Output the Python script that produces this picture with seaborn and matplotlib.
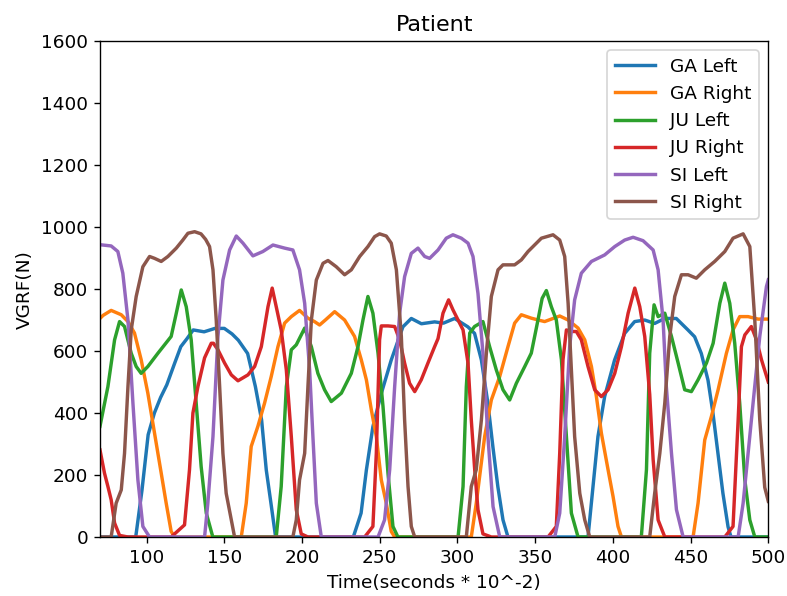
import matplotlib
matplotlib.use("Agg")
import matplotlib.pyplot as plt
import seaborn as sns
import pandas as pd

# === Données (temps, VGRF) ===
series_names = ["GA Left", "GA Right", "JU Left", "JU Right", "SI Left", "SI Right"]

ga_left_t = [70, 93, 97, 101, 105, 109, 113, 118, 122, 126, 130, 137, 144, 150, 155, 159, 165, 170, 174, 177, 180, 183,
             233, 238, 241.4, 245.6, 251, 257.4, 264.9, 270.3, 276.8, 285.3, 291, 298.2, 306.7, 311, 315.4, 319.6, 322.8,
             326, 329.3, 332.5, 384, 387.2, 390.4, 394.7, 401.1, 407.6, 414, 420.5, 426.9, 433.3, 440.8, 448.3, 452.6,
             456.9, 461.2, 464.4, 467.6, 470.8, 474.1, 476, 500]
ga_left_f = [0, 0, 150, 330, 400, 450, 491, 560, 614, 640, 668, 662, 673, 673, 655, 635, 592, 485, 377, 216, 109, 0,
             0, 77, 216, 356, 463, 571, 678, 705, 688, 694, 690, 705, 678, 657, 571, 431, 291,
             162, 55, 0, 0, 162, 324, 453, 571, 657, 695, 700, 689, 705, 705, 668, 646,
             592, 506, 399, 270, 141, 33, 0, 0]

ga_right_t = [70, 72, 77.2, 83.7, 88, 92.2, 96.5, 100.8, 105.1, 109.4, 112.6, 115.8, 118, 160.9, 164.1, 167.3, 171.6,
              175.9, 180.2, 184.5, 188.8, 193.1, 198.4, 203.8, 208, 211.3, 215, 221, 227.4, 233.8, 238.1, 241.4, 244.6,
              247.8, 251, 254.2, 257.4, 259.6, 308.9, 312.1, 317.5, 321.8, 327.2, 332.5, 336.8, 341.1, 347.5, 352,
              356.1, 365.8, 371.2, 377.6, 381.9, 386.2, 389.4, 392.6, 396.9, 400.1, 403.3, 405.5, 451.6, 454.8, 459.1,
              463.4, 467.7, 473, 477.3, 481.6, 487, 493.4, 500]
ga_right_f = [705, 715, 731, 717, 695, 658, 572, 464, 335, 206, 109, 18, 0, 0, 109, 292, 357,
              432, 518, 614, 690, 711, 731, 706, 695, 684, 700, 727, 700, 647, 572, 507, 410,
              324, 184, 109, 18, 0, 0, 109, 324, 442, 518, 614, 690, 717, 706, 700,
              695, 713, 700, 674, 636, 550, 453, 335, 217, 131, 34, 0, 0, 109, 313,
              389, 475, 592, 668, 711, 711, 703, 703]

ju_left_t = [70, 75.1, 79.4, 82.6, 85.8, 90.1, 93.3, 96.5, 100.8, 107.3, 115.8, 119.1, 122.3, 125.5, 128.7, 131.9,
             135.1, 138.4, 142.6, 183.4, 186.6, 189.9, 193.1, 196.3, 201.7, 206, 210.2, 214.5, 218.8, 225.3, 231.7,
             236, 239.2, 242.4, 245.6, 248.9, 252.1, 255.3, 258.5, 261.7, 300.4, 303.6, 305.7, 307.9, 311, 316.4,
             320.7, 325, 329.3, 333.6, 337.9, 343.3, 347.5, 351.8, 354.5, 357.2, 360.4, 363.6, 366.9, 370.1, 373.3,
             377.6, 418.3, 421.6, 423.7, 426.5, 429.1, 433.4, 437.7, 442, 446.2, 450.5, 454.8, 460.2, 464.5, 468.8,
             472, 475.2, 478.4, 481.6, 484.9, 488.1, 491.3, 500]
ju_left_f = [357, 485, 636, 695, 679, 593, 550, 528, 550, 593, 647, 722, 797, 743, 636, 432,
             227, 77, 0, 0, 163, 485, 604, 620, 674, 614, 528, 475, 437, 464, 528,
             614, 700, 776, 722, 593, 421, 206, 34, 0, 0, 163, 485, 658, 679, 695,
             614, 539, 475, 442, 496, 550, 593, 700, 770, 795, 743, 700, 572, 324, 77,
             0, 0, 217, 593, 749, 711, 722, 647, 561, 475, 469, 507, 561, 625, 754,
             819, 754, 625, 432, 184, 55, 0, 0]

ju_right_t = [70, 72.9, 75.1, 77.2, 79.4, 82.6, 88, 115.8, 124.4, 127.6, 129.8, 133, 137.3, 141.6, 143, 145.9, 150.2,
              154.5, 158.8, 165.2, 169.5, 173.8, 178.1, 180.8, 183.4, 186.6, 189.9, 193.1, 196.3, 199.5, 203.8,
              240.3, 245.6, 247.8, 249.9, 251, 255.3, 259.6, 262.8, 266, 269.2, 272.5, 276.7, 281, 285.3, 287.5,
              290.7, 294.3, 297.1, 300.4, 303.6, 306.8, 308.9, 311.1, 313.2, 316.4, 321.8, 358.3, 363.6, 365.8,
              367.9, 370.1, 373.3, 376.5, 379.7, 384, 388.3, 392.6, 396.9, 401.2, 405.5, 409.8, 414.1, 417.3, 420.5,
              423.7, 425.9, 429.1, 433.4, 472, 477.3, 480.6, 482.7, 484.9, 489.1, 492.4, 495.6, 500]
ju_right_f = [281, 206, 163, 120, 45, 5, 0, 0, 39, 217, 400, 485, 578, 625, 625, 604, 561,
              523, 504, 523, 550, 614, 743, 803, 743, 668, 539, 324, 88, 10, 0,
              0, 34, 270, 636, 681, 681, 679, 636, 561, 496, 469, 507, 561, 614, 640,
              722, 765, 733, 700, 668, 561, 378, 217, 88, 10, 0, 0, 34, 270,
              572, 668, 663, 663, 636, 550, 475, 453, 475, 528, 614, 722, 803, 743, 647,
              460, 250, 55, 0, 0, 34, 378, 614, 652, 679, 636, 572, 500]

si_left_t = [70, 77.2, 81.5, 84.7, 88, 91.2, 94.4, 97.6, 101.9, 137.3, 139.4, 142.7, 145.9, 149.1, 153.4, 157.7, 162,
             168.4, 174.8, 181.3, 188.8, 194.1, 198.4, 201.7, 204.9, 207, 209.2, 212.4, 248.9, 253.1, 256.4, 259.6,
             262.8, 266, 270.3, 274.6, 278.9, 282.1, 287.5, 292.8, 297.1, 302.5, 306.8, 310, 313.2, 316.4, 319.6,
             322.9, 327.2, 362.6, 365.8, 369, 372.2, 375.4, 379.7, 386.2, 394.7, 401.2, 407.6, 413, 419.4, 425.9,
             429.1, 432.3, 434.4, 437.7, 440.9, 445.2, 480.6, 483.8, 487, 490.2, 494.5, 498.8, 500]
si_left_f = [943, 939, 921, 851, 700, 432, 184, 34, 0, 0, 109, 324, 647, 829, 926, 971, 948,
             907, 921, 942, 932, 926, 862, 754, 539, 324, 109, 0, 0, 55, 217, 485,
             722, 840, 915, 932, 905, 899, 926, 964, 975, 964, 948, 905, 786, 593, 324,
             98, 0, 0, 77, 324, 614, 765, 851, 889, 910, 937, 958, 967, 956, 926,
             862, 700, 485, 270, 88, 0, 0, 109, 270, 432, 647, 808, 830]

si_right_t = [70, 77.2, 80.4, 83.7, 85.8, 88, 90.1, 93.3, 97.6, 101.9, 105.1, 109.4, 113.7, 119.1, 123.3, 126.6, 130.9,
              135, 138, 140.5, 142.7, 144.8, 147, 149.1, 151.2, 154.5, 156.6, 194.1, 196.3, 198.4, 201.7, 203.8,
              206, 209.2, 213.5, 216.7, 222, 227.4, 231.7, 237.1, 242.4, 246.7, 249.9, 254.2, 257.4, 260.7, 263.9,
              266, 268.2, 270.3, 272.5, 305.7, 308.9, 312.1, 315.4, 318.6, 321.8, 326.1, 329.3, 336.8, 341.1, 345.4,
              350.8, 354, 361.5, 365.8, 369, 371.2, 373.3, 375.4, 378.7, 381.9, 385.1, 423.7, 426.9, 430.2, 433.4,
              436.6, 439.8, 444.1, 448.4, 453.7, 459.1, 465.5, 472, 477.3, 483.8, 488.1, 491.3, 494.5, 497.7, 500]
si_right_f = [0, 0, 109, 152, 270, 485, 668, 776, 872, 905, 899, 889, 905, 932, 958, 980, 985,
              978, 960, 937, 862, 700, 485, 270, 141, 55, 0, 0, 55, 184, 270, 485,
              700, 829, 883, 892, 872, 846, 862, 905, 937, 969, 978, 971, 948, 862, 647,
              378, 163, 34, 0, 0, 163, 217, 378, 593, 776, 862, 878, 878, 894, 921,
              948, 964, 975, 958, 905, 754, 539, 324, 141, 55, 0, 0, 141, 270, 432,
              647, 776, 846, 846, 835, 862, 889, 921, 964, 978, 937, 700, 378, 160, 115]

x_ticks = [100, 150, 200, 250, 300, 350, 400, 450, 500]
y_ticks = [0, 200, 400, 600, 800, 1000, 1200, 1400, 1600]

# === Tableau long pour seaborn ===
all_t = [ga_left_t, ga_right_t, ju_left_t, ju_right_t, si_left_t, si_right_t]
all_f = [ga_left_f, ga_right_f, ju_left_f, ju_right_f, si_left_f, si_right_f]
frames = []
for name, t, f in zip(series_names, all_t, all_f):
    frames.append(pd.DataFrame({"time": t, "vgrf": f, "series": name}))
df = pd.concat(frames, ignore_index=True)

plt.rcParams["font.size"] = 10.8

fig, ax = plt.subplots(figsize=(6.4, 4.846), dpi=123)
sns.lineplot(data=df, x="time", y="vgrf", hue="series", hue_order=series_names,
             palette="tab10", estimator=None, linewidth=2, ax=ax)

ax.set_xlim(70, 500)
ax.set_ylim(0, 1600)
ax.set_xticks(x_ticks)
ax.set_yticks(y_ticks)
ax.set_title("Patient", fontsize=13)
ax.set_xlabel("Time(seconds * 10^-2)")
ax.set_ylabel("VGRF(N)")

handles, labels = ax.get_legend_handles_labels()
ax.legend(handles, labels, loc="upper right", handlelength=2.2)

fig.subplots_adjust(left=0.127, right=0.976, top=0.931, bottom=0.099)
fig.savefig("out.png", dpi=123)
